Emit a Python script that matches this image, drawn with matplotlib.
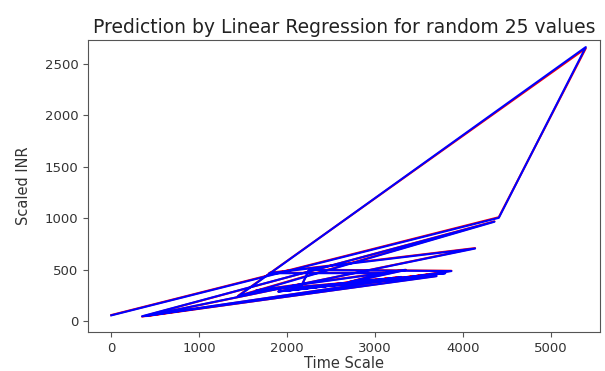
import matplotlib
matplotlib.use("Agg")
import matplotlib.pyplot as plt

# 25 randomly picked samples, in the order they were drawn
time_scale = [0, 4410, 5400, 1440, 4360, 350, 3870, 2250, 2150, 3700,
              400, 4140, 1800, 3100, 2700, 3350, 1650, 3600, 2900, 1900,
              3300, 2500, 3800, 2000, 3200]
inr_actual = [60, 1010, 2650, 245, 970, 45, 490, 500, 320, 440,
              50, 710, 470, 470, 380, 500, 300, 440, 400, 290,
              430, 350, 470, 300, 420]
inr_pred = [57, 1004, 2662, 241, 966, 48, 487, 497, 318, 437,
            53, 706, 466, 467, 377, 497, 297, 437, 397, 288,
            427, 347, 466, 297, 417]

fig = plt.figure(figsize=(6.05, 3.71), dpi=100)
ax = fig.add_axes([0.1455, 0.105, 0.846, 0.787])

ax.plot(time_scale, inr_actual, color='red', linewidth=1.5)
ax.plot(time_scale, inr_pred, color='blue', linewidth=1.5)

ax.set_xlim(-265, 5560)
ax.set_ylim(-105, 2730)
ax.set_xlabel('Time Scale', fontsize=10.5, labelpad=1, color='#333333')
ax.set_ylabel('Scaled INR', fontsize=10.5, labelpad=10, color='#333333')
ax.set_title('Prediction by Linear Regression for random 25 values', fontsize=13.5, color='#222222', pad=5)
ax.tick_params(labelsize=9.5, labelcolor='#333333', color='#555555')
for s in ax.spines.values():
    s.set_color('#555555')

fig.savefig('out.png', dpi=100)
